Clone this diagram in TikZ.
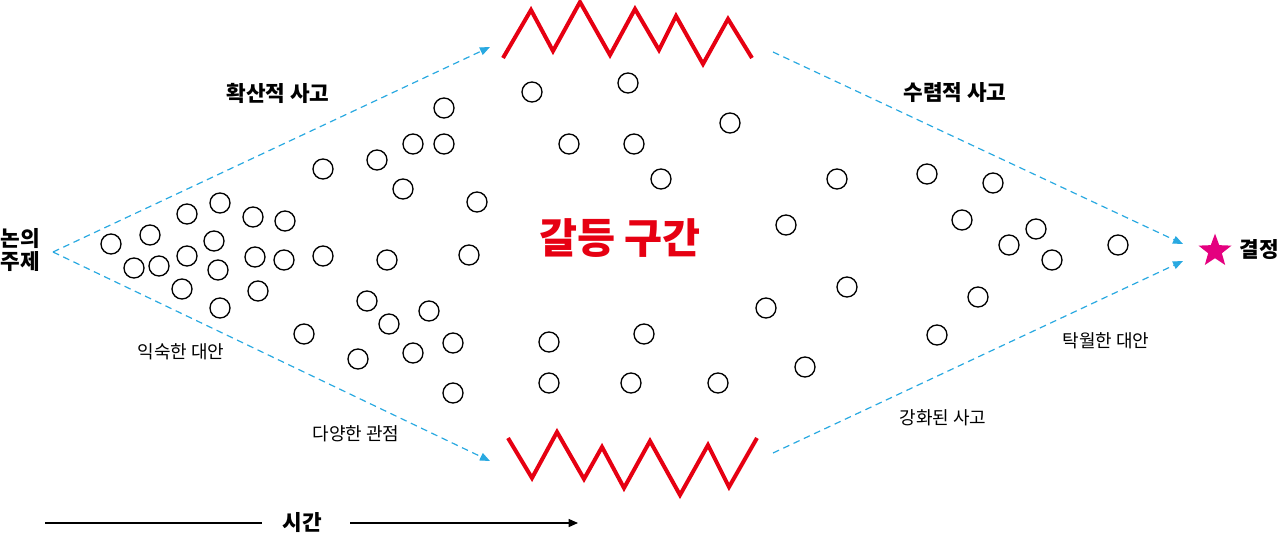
\documentclass[tikz,border=0pt]{standalone}
\usepackage{fontspec}
\setmainfont{Noto Sans CJK KR}
\usetikzlibrary{arrows.meta,shapes.geometric}
\definecolor{zigred}{HTML}{E60012}
\definecolor{dashblue}{HTML}{29A9E1}
\definecolor{starpink}{HTML}{E4007F}

\begin{document}
\begin{tikzpicture}[x=0.75pt,y=-0.75pt,>={Triangle[length=7.5pt,width=6pt]},
  idea node/.style={circle,draw,line width=1pt,minimum size=15pt,inner sep=0pt},
  flow line/.style={draw=dashblue,dash pattern=on 5pt off 3.5pt,line width=0.9pt,->},
  zig line/.style={draw=zigred,line width=3pt,line join=miter},
  head label/.style={font=\fontsize{16}{20}\selectfont\bfseries,align=center},
  side label/.style={font=\fontsize{13.5}{16}\selectfont}]
  \useasboundingbox (0,0) rectangle (1280,535);

  % labels
  \node[head label] (topic) at (20,250) {논의\\[-3pt]주제};
  \node[head label] (decision) at (1259,250) {결정};
  \node[star,star points=5,star point ratio=2.4,fill=starpink,inner sep=0pt,
    minimum size=26pt] (goal) at (1215,251) {};
  \node[head label] (diverge) at (278,93) {확산적 사고};
  \node[head label] (converge) at (955,93) {수렴적 사고};
  \node[side label] (familiar) at (181,352) {익숙한 대안};
  \node[side label] (views) at (356,434) {다양한 관점};
  \node[side label] (best) at (1106,341) {탁월한 대안};
  \node[side label] (stronger) at (943,418) {강화된 사고};
  \node[font=\fontsize{31}{35}\selectfont\bfseries,text=zigred] (conflict) at (620,238) {갈등 구간};

  % ideas
  \foreach \x/\y [count=\i] in {444/108,413/144,444/144,377/160,323/169,403/189,477/202,
    220/203,187/214,253/217,285/221,150/235,214/241,111/244,187/256,255/257,284/260,
    323/256,387/260,469/255,134/268,159/266,218/270,182/289,258/291,220/308,367/301,
    429/311,389/324,304/334,453/343,413/353,358/359,453/393,
    532/92,628/83,730/123,569/144,634/144,661/179,837/179,786/225,847/287,766/308,
    644/334,549/342,805/367,549/383,631/383,718/383,
    927/174,993/183,962/220,1036/229,1009/245,1052/260,1118/245,978/297,937/335}
    \node[idea node] (c\i) at (\x,\y) {};

  % walls
  \draw[zig line] (503,58) -- (531,10) -- (553,51) -- (580,2) -- (610,55) -- (635,9)
    -- (659,50) -- (676,16) -- (703,64) -- (728,19) -- (752,58);
  \draw[zig line] (508,438) -- (532,478) -- (557,432) -- (584,479) -- (602,447)
    -- (624,488) -- (650,441) -- (680,495) -- (708,445) -- (729,487) -- (757,438);

  % flows
  \coordinate (fork) at (53,252);
  \coordinate (topin) at (490,47);
  \coordinate (botin) at (490,461);
  \coordinate (topout) at (773,52);
  \coordinate (botout) at (773,453);
  \coordinate (goalup) at (1183,244);
  \coordinate (goaldown) at (1183,261);
  \draw[flow line] (fork) -- (topin);
  \draw[flow line] (fork) -- (botin);
  \draw[flow line] (topout) -- (goalup);
  \draw[flow line] (botout) -- (goaldown);

  % time
  \node[head label] (time) at (302,523) {시간};
  \coordinate (tstart) at (45,523);
  \coordinate (tend) at (578,523);
  \draw[line width=1pt] (tstart) -- (262,523);
  \draw[line width=1pt,->,>={Triangle[length=7pt,width=6pt]}] (350,523) -- (tend);
\end{tikzpicture}
\end{document}
